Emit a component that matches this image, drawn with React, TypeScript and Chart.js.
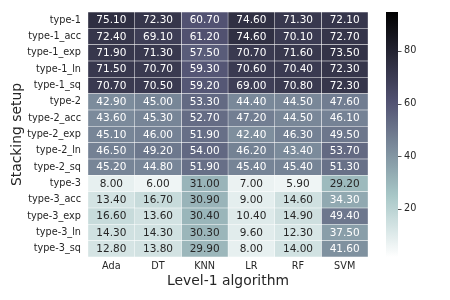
import React, { useEffect, useRef } from "react";
import { Chart, registerables } from "chart.js";

Chart.register(...registerables);

const rows = [
  "type-1", "type-1_acc", "type-1_exp", "type-1_ln", "type-1_sq",
  "type-2", "type-2_acc", "type-2_exp", "type-2_ln", "type-2_sq",
  "type-3", "type-3_acc", "type-3_exp", "type-3_ln", "type-3_sq",
];
const cols = ["Ada", "DT", "KNN", "LR", "RF", "SVM"];

const ada = [75.1, 72.4, 71.9, 71.5, 70.7, 42.9, 43.6, 45.1, 46.5, 45.2, 8.0, 13.4, 16.6, 14.3, 12.8];
const dt = [72.3, 69.1, 71.3, 70.7, 70.5, 45.0, 45.3, 46.0, 49.2, 44.8, 6.0, 16.7, 13.6, 14.3, 13.8];
const knn = [60.7, 61.2, 57.5, 59.3, 59.2, 53.3, 52.7, 51.9, 54.0, 51.9, 31.0, 30.9, 30.4, 30.3, 29.9];
const lr = [74.6, 74.6, 70.7, 70.6, 69.0, 44.4, 47.2, 42.4, 46.2, 45.4, 7.0, 9.0, 10.4, 9.6, 8.0];
const rf = [71.3, 70.1, 71.6, 70.4, 70.8, 44.5, 44.5, 46.3, 43.4, 45.4, 5.9, 14.6, 14.9, 12.3, 14.0];
const svm = [72.1, 72.7, 73.5, 72.3, 72.3, 47.6, 46.1, 49.5, 53.7, 51.3, 29.2, 34.3, 49.4, 37.5, 41.6];
const series = [ada, dt, knn, lr, rf, svm];

const colorbarTicks = [20, 40, 60, 80];
const VMIN = 1.7;
const VMAX = 94.8;

function bone(x: number): [number, number, number] {
  const r = x < 0.746032 ? (0.652778 * x) / 0.746032 : 0.652778 + ((x - 0.746032) / (1 - 0.746032)) * (1 - 0.652778);
  let g: number;
  if (x < 0.365079) g = (0.319444 * x) / 0.365079;
  else if (x < 0.746032) g = 0.319444 + ((x - 0.365079) / (0.746032 - 0.365079)) * (0.777778 - 0.319444);
  else g = 0.777778 + ((x - 0.746032) / (1 - 0.746032)) * (1 - 0.777778);
  const b = x < 0.365079 ? (0.444444 * x) / 0.365079 : 0.444444 + ((x - 0.365079) / (1 - 0.365079)) * 0.555556;
  return [r, g, b];
}
function boneR(v: number): [number, number, number] {
  let t = (v - VMIN) / (VMAX - VMIN);
  t = Math.max(0, Math.min(1, t));
  return bone(1 - t);
}
function rgbStr(c: [number, number, number]) {
  return `rgb(${Math.round(c[0] * 255)},${Math.round(c[1] * 255)},${Math.round(c[2] * 255)})`;
}
function lum(c: [number, number, number]) {
  const lin = c.map((u) => (u <= 0.03928 ? u / 12.92 : Math.pow((u + 0.055) / 1.055, 2.4)));
  return 0.2126 * lin[0] + 0.7152 * lin[1] + 0.0722 * lin[2];
}

const FONT = "DejaVu Sans";
const TEXT = "#262626";

function noPad(scale: any) {
  scale.paddingTop = 0;
  scale.paddingBottom = 0;
  scale.paddingLeft = 0;
  scale.paddingRight = 0;
}

export default function App() {
  const ref = useRef<HTMLCanvasElement>(null);
  useEffect(() => {
    if (!ref.current) return;
    Chart.defaults.font.family = FONT;
    const datasets = series.map((vals, c) => ({
      label: cols[c],
      data: vals.map(() => [c, c + 1]),
      values: vals,
      backgroundColor: vals.map((v) => rgbStr(boneR(v))),
      borderColor: "#ffffff",
      borderWidth: 0.5,
      borderSkipped: false,
      barPercentage: 1,
      categoryPercentage: 1,
      grouped: false,
    }));

    const annotPlugin = {
      id: "annot",
      afterDatasetsDraw(chart: any) {
        const ctx = chart.ctx;
        ctx.save();
        ctx.font = `10.5px ${FONT}`;
        ctx.textAlign = "center";
        ctx.textBaseline = "middle";
        chart.data.datasets.forEach((ds: any, di: number) => {
          const meta = chart.getDatasetMeta(di);
          meta.data.forEach((el: any, i: number) => {
            const v = ds.values[i];
            const col = boneR(v);
            ctx.fillStyle = lum(col) < 0.408 ? "#ffffff" : TEXT;
            const cx = (el.x + el.base) / 2;
            ctx.fillText(v.toFixed(2), cx, el.y + 0.5);
          });
        });
        ctx.restore();
      },
    };

    const cbPlugin = {
      id: "colorbar",
      afterDraw(chart: any) {
        const ctx = chart.ctx;
        const cb = chart.scales.cb;
        const ca = chart.chartArea;
        const x0 = ca.right + 18;
        const w = 12;
        const yTop = cb.getPixelForValue(VMAX);
        const yBot = cb.getPixelForValue(VMIN);
        const grad = ctx.createLinearGradient(0, yBot, 0, yTop);
        const N = 40;
        for (let i = 0; i <= N; i++) {
          const t = i / N;
          grad.addColorStop(t, rgbStr(boneR(VMIN + t * (VMAX - VMIN))));
        }
        ctx.save();
        ctx.fillStyle = grad;
        ctx.fillRect(x0, yTop, w, yBot - yTop);
        ctx.strokeStyle = TEXT;
        ctx.lineWidth = 0.8;
        colorbarTicks.forEach((t) => {
          const y = Math.round(cb.getPixelForValue(t)) + 0.5;
          ctx.beginPath();
          ctx.moveTo(x0 + w, y);
          ctx.lineTo(x0 + w + 3.5, y);
          ctx.stroke();
        });
        ctx.restore();
      },
    };

    const chart = new Chart(ref.current, {
      type: "bar",
      data: { labels: rows, datasets: datasets as any },
      options: {
        indexAxis: "y",
        animation: false,
        responsive: false,
        layout: { padding: { left: 0, top: 12, right: 0, bottom: 0 } },
        plugins: { legend: { display: false }, tooltip: { enabled: false } },
        scales: {
          x: {
            type: "linear",
            min: 0,
            max: cols.length,
            offset: false,
            grid: { display: false, drawTicks: false },
            border: { display: false },
            afterBuildTicks: (scale: any) => {
              scale.ticks = cols.map((_, i) => ({ value: i + 0.5 }));
            },
            afterFit: (scale: any) => {
              scale.height = 43;
              noPad(scale);
            },
            ticks: {
              autoSkip: false,
              maxRotation: 0,
              padding: 4,
              color: TEXT,
              font: { size: 9.7 },
              callback: (v: any) => cols[Math.floor(Number(v))],
            },
            title: {
              display: true,
              text: "Level-1 algorithm",
              color: TEXT,
              font: { size: 13.9 },
              padding: { top: 0, bottom: 10.5 },
            },
          },
          y: {
            type: "category",
            grid: { display: false, drawTicks: false },
            border: { display: false },
            afterFit: (scale: any) => {
              scale.width = 88;
              noPad(scale);
            },
            ticks: {
              autoSkip: false,
              padding: 7,
              color: TEXT,
              font: { size: 9.7 },
            },
            title: {
              display: true,
              text: "Stacking setup",
              color: TEXT,
              font: { size: 13.9 },
              padding: { top: 9.5, bottom: 0 },
            },
          },
          cb: {
            type: "linear",
            axis: "y",
            position: "right",
            min: VMIN,
            max: VMAX,
            offset: false,
            grid: {
              display: true,
              offset: false,
              drawOnChartArea: false,
              drawTicks: true,
              tickLength: 33,
              color: "rgba(0,0,0,0)",
            },
            border: { display: false },
            afterBuildTicks: (scale: any) => {
              scale.ticks = colorbarTicks.map((v) => ({ value: v }));
            },
            afterFit: (scale: any) => {
              scale.width = 82;
              noPad(scale);
            },
            ticks: {
              padding: 3,
              color: TEXT,
              font: { size: 9.7 },
              callback: (v: any) => String(v),
            },
          },
        } as any,
      },
      plugins: [annotPlugin, cbPlugin],
    });
    return () => chart.destroy();
  }, []);

  return (
    <div style={{ position: "absolute", left: 0, top: 0, width: 450, height: 300, background: "#fff" }}>
      <canvas ref={ref} width={450} height={300} />
    </div>
  );
}
